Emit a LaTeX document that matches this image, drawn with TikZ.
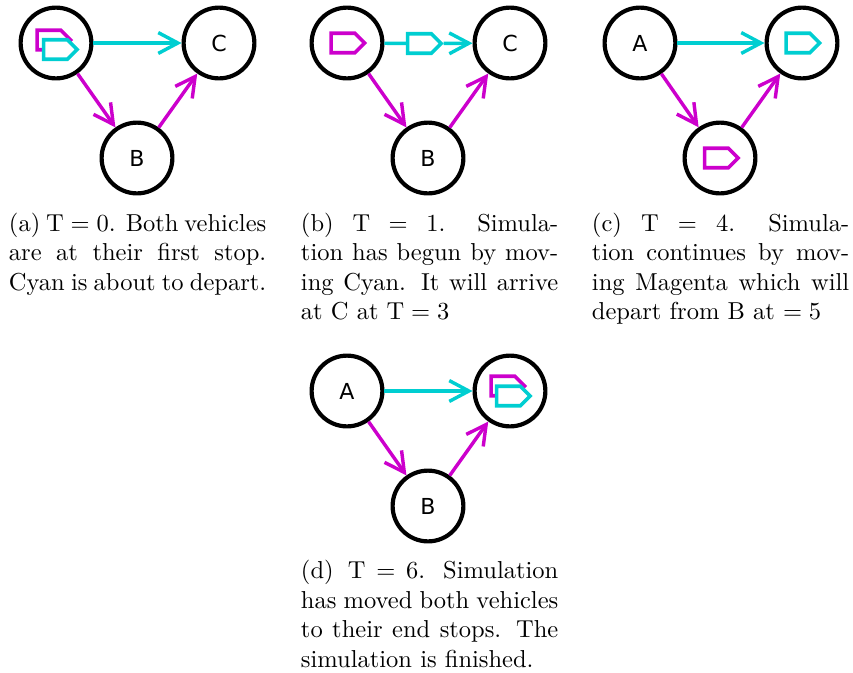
\documentclass[tikz,border=0pt]{standalone}
\usepackage{fontspec}
\usetikzlibrary{shapes,arrows.meta,positioning}
\newfontfamily\stopfont{DejaVu Sans}
\definecolor{routecyan}{RGB}{0,206,209}
\definecolor{routemagenta}{RGB}{204,0,204}
\tikzset{
    stopnode/.style={draw, circle, line width=1.7pt, minimum size=1.015cm, inner sep=0pt, font=\stopfont\fontsize{9}{11}\selectfont},
    vehicle/.style={draw=#1, fill=white, signal, signal to=east, line width=1.5pt, inner sep=0pt, minimum width=0.48cm, minimum height=0.28cm},
    route/.style={draw=#1, line width=1.4pt, -{Straight Barb[length=8pt, width=8.5pt, line width=1.4pt]}},
    link/.style={draw=#1, line width=1.4pt},
    caption/.style={anchor=north west, inner sep=0pt, text width=105pt, align=justify, font=\normalsize}
}
\begin{document}
\begin{tikzpicture}[x=0.01434cm, y=-0.01434cm]
    \useasboundingbox (0,0) rectangle (853,672);

    % panel a
    \node[stopnode] (aA) at (56,43) {};
    \node[stopnode] (aC) at (219,43) {C};
    \node[stopnode] (aB) at (137,158) {B};
    \node[vehicle=routemagenta] (aM) at (49,40) {};
    \node[vehicle=routecyan] (aV) at (55.5,49.5) {};
    \draw[route=routecyan] (aA) -- (aC);
    \draw[route=routemagenta] (aA) -- (aB);
    \draw[route=routemagenta] (aB) -- (aC);
    \node[caption] (acap) at (8.5,212.5) {(a) $\mathrm{T}=0$. Both vehicles\linebreak are at their first stop.\linebreak Cyan is about to depart.};

    % panel b
    \node[stopnode] (bA) at (347,43) {};
    \node[stopnode] (bC) at (510,43) {C};
    \node[stopnode] (bB) at (428,158) {B};
    \node[vehicle=routemagenta] (bM) at (343,43) {};
    \node[vehicle=routecyan] (bV) at (419.5,43.5) {};
    \draw[link=routecyan] (bA) -- (bV);
    \draw[route=routecyan] (bV) -- (bC);
    \draw[route=routemagenta] (bA) -- (bB);
    \draw[route=routemagenta] (bB) -- (bC);
    \node[caption] (bcap) at (300.5,212.5) {(b)\hspace{1.5pt} $\mathrm{T}=1$. Simula-\linebreak tion has begun by mov-\linebreak ing Cyan. It will arrive\linebreak at C at $\mathrm{T}=3$};

    % panel c
    \node[stopnode] (cA) at (640,43) {A};
    \node[stopnode] (cC) at (802,43) {};
    \node[stopnode] (cB) at (720,158) {};
    \node[vehicle=routecyan] (cV) at (798,43) {};
    \node[vehicle=routemagenta] (cM) at (716.5,158) {};
    \draw[route=routecyan] (cA) -- (cC);
    \draw[route=routemagenta] (cA) -- (cB);
    \draw[route=routemagenta] (cB) -- (cC);
    \node[caption] (ccap) at (591.5,212.5) {(c)\hspace{1.5pt} $\mathrm{T}=4$. Simula-\linebreak tion continues by mov-\linebreak ing Magenta which will\linebreak depart from B at $=5$};

    % panel d
    \node[stopnode] (dA) at (347,391) {A};
    \node[stopnode] (dC) at (510,391) {};
    \node[stopnode] (dB) at (428,506) {B};
    \node[vehicle=routemagenta] (dM) at (503,386) {};
    \node[vehicle=routecyan] (dV) at (508.5,396) {};
    \draw[route=routecyan] (dA) -- (dC);
    \draw[route=routemagenta] (dA) -- (dB);
    \draw[route=routemagenta] (dB) -- (dC);
    \node[caption] (dcap) at (300.5,560) {(d)\hspace{1.5pt} $\mathrm{T}=6$. Simulation\linebreak has moved both vehicles\linebreak to their end stops. The\linebreak simulation is finished.};
\end{tikzpicture}
\end{document}
